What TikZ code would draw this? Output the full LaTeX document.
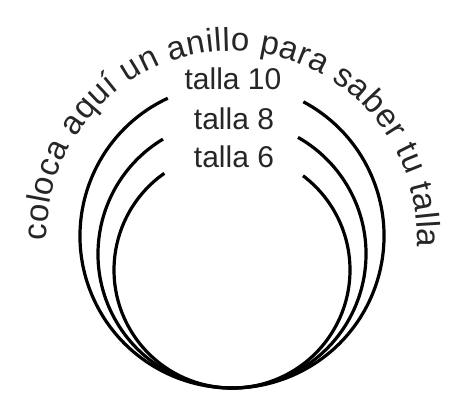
\documentclass[tikz,border=0pt]{standalone}
\usepackage{fontspec}
\setmainfont{Liberation Sans}
\usetikzlibrary{decorations.text}
\begin{document}
\begin{tikzpicture}[x=1pt, y=1pt,
  ring/.style={line width=3.2pt, black},
  size/.style={font=\fontsize{30}{30}\selectfont, text=black!85, inner sep=0pt}]
  \useasboundingbox (0,0) rectangle (455,397);
  % rings: outer (talla 10), middle (talla 8), inner (talla 6), all touching at the bottom
  \draw[ring] (232,161) ++(115:152) arc[start angle=115, end angle=422, radius=152];
  \draw[ring] (232,143) ++(121:134) arc[start angle=121, end angle=420.5, radius=134];
  \draw[ring] (232,127) ++(125:118) arc[start angle=125, end angle=413, radius=118];
  % size labels in the gaps
  \node[size] (t10) at (233,318) {talla 10};
  \node[size] (t8) at (234,278) {talla 8};
  \node[size] (t6) at (234,240) {talla 6};
  % text round the top
  \path[decorate, decoration={text along path, text align={fit to path},
    text={|\fontsize{33}{33}\selectfont\color{black!85}|coloca aquí un anillo para saber tu talla}}]
    (232,161) ++(181.5:185) arc[start angle=181.5, end angle=-3.5, radius=185];
\end{tikzpicture}
\end{document}
